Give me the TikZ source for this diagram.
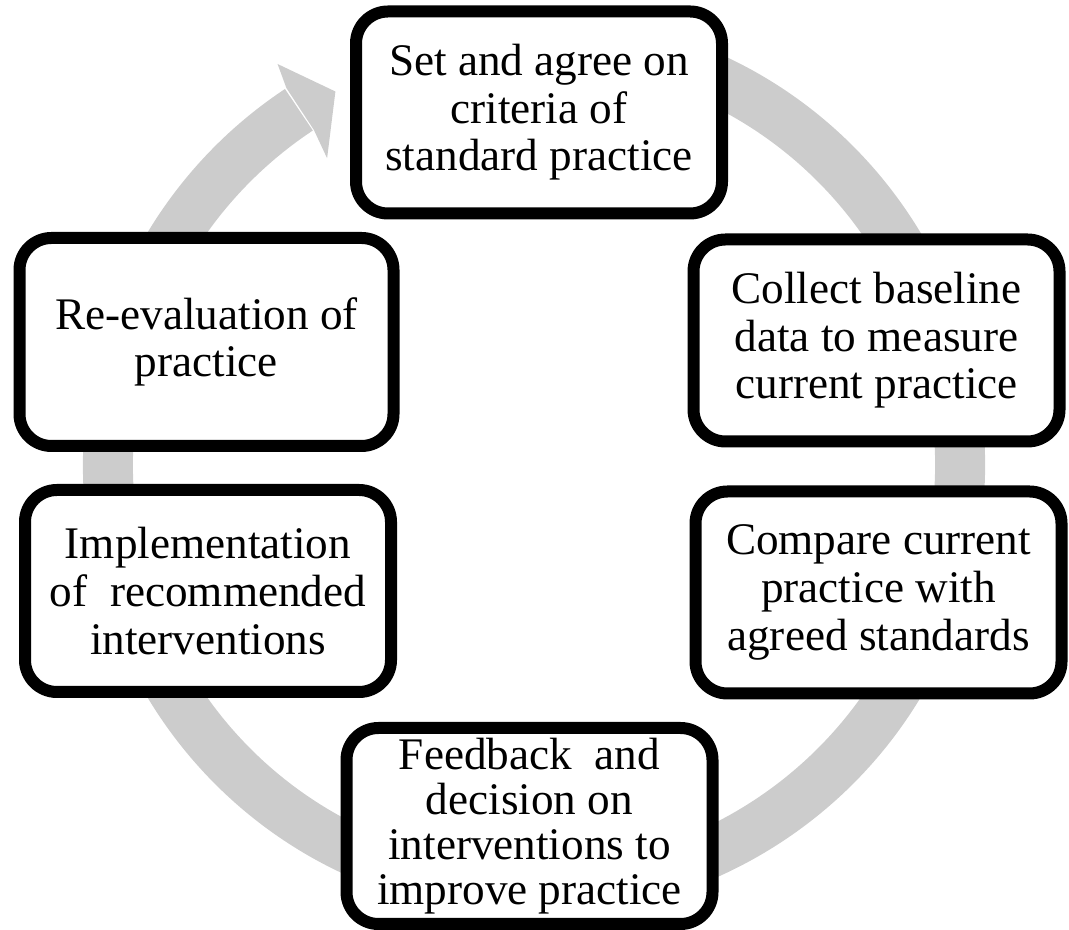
\documentclass[tikz,border=0pt]{standalone}
\usepackage{fontspec}
\setmainfont{Liberation Serif}
\usepackage{tikz}
\usetikzlibrary{calc}

\begin{document}
\begin{tikzpicture}[x=0.5pt, y=0.5pt,
  stage/.style={draw, line width=6pt, rounded corners=16pt, fill=white, align=center,
    minimum width=183pt, minimum height=101pt, inner sep=0pt,
    font=\fontsize{22.6}{23.8}\selectfont}]

\useasboundingbox (0,0) rectangle (1069,930);

\coordinate (C) at (534,465); % Center of the cycle

% grey ring with its head
\draw[line width=25pt, black!20] ($(C)+(75:426)$) arc[start angle=75, end angle=-236.5, radius=426];
\fill[black!20] ($(C)+(123.3:451)$) -- ($(C)+(122.6:476)$) -- ($(C)+(118:423)$)
  -- ($(C)+(124:370)$) -- ($(C)+(123.3:401)$) -- cycle;

\node[stage] (set) at (539,817.5) {Set and agree on\\criteria of\\standard practice};
\node[stage] (collect) at (876.5,589.5) {Collect baseline\\data to measure\\current practice};
\node[stage] (compare) at (878.5,337.5) {Compare current\\practice with\\agreed standards};
\node[stage, minimum height=98pt, font=\fontsize{22.6}{22.5}\selectfont] (feedback) at (529.5,104) {Feedback~ and\\decision on\\interventions to\\improve practice};
\node[stage] (impl) at (208,339) {Implementation\\of~ recommended\\interventions};
\node[stage, minimum width=187pt, minimum height=104pt] (reeval) at (206.5,588) {Re-evaluation of\\practice};
\end{tikzpicture}
\end{document}
